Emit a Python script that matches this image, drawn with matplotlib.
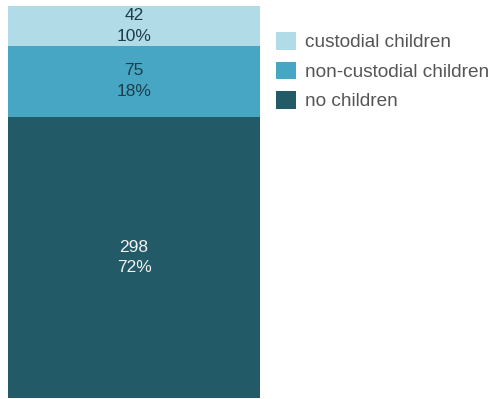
import matplotlib.pyplot as plt

plt.rcParams["font.family"] = ["Liberation Sans", "DejaVu Sans"]

# data
categories = ["no children", "non-custodial children", "custodial children"]
counts = [298, 75, 42]
colors = ["#235a68", "#47a6c4", "#b1dbe7"]
label_colors = ["#f2f2f2", "#1d3c4c", "#1d3c4c"]

total = sum(counts)

fig = plt.figure(figsize=(4.96, 3.99), dpi=100)
ax = fig.add_axes([8 / 496, 1 / 399, 252 / 496, 392 / 399])

bottom = 0
bars = []
for cat, val, col, lc in zip(categories, counts, colors, label_colors):
    b = ax.bar(0, val, bottom=bottom, width=1.0, color=col, label=cat)
    bars.append(b)
    pct = round(val / total * 100)
    ax.text(0, bottom + val / 2, f"{val}\n{pct}%", ha="center", va="center",
            color=lc, fontsize=12.5, linespacing=1.45)
    bottom += val

ax.set_xlim(-0.5, 0.5)
ax.set_ylim(0, total)
ax.axis("off")

# legend, top entry first
handles = bars[::-1]
labels = categories[::-1]
fig.legend(handles, labels, loc="upper left", bbox_to_anchor=(275 / 496, 1 - 31 / 399),
           frameon=False, fontsize=13.7, handlelength=1.05, handleheight=1.05,
           handletextpad=0.5, labelspacing=0.54, labelcolor="#555555",
           borderaxespad=0, borderpad=0.05)

plt.savefig("out.png", dpi=100)
